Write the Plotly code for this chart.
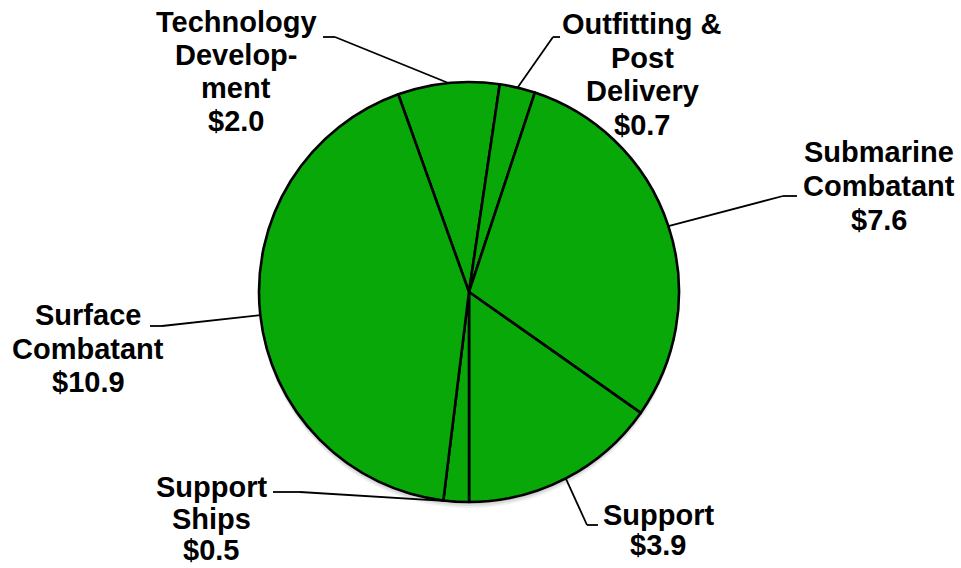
import math
import plotly.graph_objects as go

# Funding by category ($B)
categories = ["Technology Development", "Outfitting & Post Delivery",
              "Submarine Combatant", "Support", "Support Ships",
              "Surface Combatant"]
values = [2.0, 0.7, 7.6, 3.9, 0.5, 10.9]
label_lines = [
    ["Technology", "Develop-", "ment"],
    ["Outfitting &", "Post", "Delivery"],
    ["Submarine", "Combatant"],
    ["Support"],
    ["Support", "Ships"],
    ["Surface", "Combatant"],
]

W, H = 961, 568
CX, CY, R = 469, 292, 210          # pie centre / radius in pixels
ROTATION = -19.7

# label layout: text centre x, first line centre y, line gap,
# leader elbow (x, y) and leader end (x, y) in pixels
label_layout = [
    dict(x=236, y=22, gap=33, elbow=(335, 37), end=(323, 37)),
    dict(x=642, y=24, gap=33.5, elbow=(553, 37), end=(560, 37)),
    dict(x=879, y=152, gap=34, elbow=(783, 196), end=(797, 196)),
    dict(x=658, y=515, gap=30, elbow=(587, 525), end=(598, 525)),
    dict(x=211, y=487, gap=31.5, elbow=(300, 492), end=(273, 492)),
    dict(x=88, y=315, gap=33.5, elbow=(162, 326), end=(150, 326)),
]

def px(x):
    return x / W

def py(y):
    return 1 - y / H

fig = go.Figure(go.Pie(
    labels=categories,
    values=values,
    sort=False,
    direction="clockwise",
    rotation=ROTATION,
    textinfo="none",
    hoverinfo="label+value",
    marker=dict(colors=["#07A807"] * len(values),
                line=dict(color="#000000", width=2.6)),
    domain=dict(x=[px(CX - R), px(CX + R)], y=[py(CY + R), py(CY - R)]),
    showlegend=False,
))

shapes = []
# soft drop shadow under the pie
for off, a in [(6, 0.06), (4, 0.08), (2, 0.10)]:
    shapes.append(dict(type="circle", xref="paper", yref="paper",
                       x0=px(CX - R), x1=px(CX + R),
                       y0=py(CY + R + off), y1=py(CY - R + off),
                       fillcolor=f"rgba(0,0,0,{a})", line=dict(width=0),
                       layer="below"))

annotations = []
total = sum(values)
angle = ROTATION
font = dict(family="Liberation Sans, Arial, sans-serif", size=29, color="#000000")
for name, v, lines, lay in zip(categories, values, label_lines, label_layout):
    mid = math.radians(angle + 180 * v / total)
    angle += 360 * v / total
    ex, ey = CX + R * math.sin(mid), CY - R * math.cos(mid)
    bx, by = lay["elbow"]
    tx, ty = lay["end"]
    for (x0, y0, x1, y1) in [(ex, ey, bx, by), (bx, by, tx, ty)]:
        shapes.append(dict(type="line", xref="paper", yref="paper",
                           x0=px(x0), y0=py(y0), x1=px(x1), y1=py(y1),
                           line=dict(color="#000000", width=1.8)))
    text_lines = lines + [f"${v:.1f}"]
    for i, t in enumerate(text_lines):
        annotations.append(dict(
            text=f"<b>{t}</b>", xref="paper", yref="paper",
            x=px(lay["x"]), y=py(lay["y"] + i * lay["gap"]),
            xanchor="center", yanchor="middle", showarrow=False, font=font))

fig.update_layout(
    width=W, height=H,
    margin=dict(l=0, r=0, t=0, b=0),
    paper_bgcolor="#FFFFFF",
    plot_bgcolor="#FFFFFF",
    shapes=shapes,
    annotations=annotations,
)

fig.write_html("out.html")
